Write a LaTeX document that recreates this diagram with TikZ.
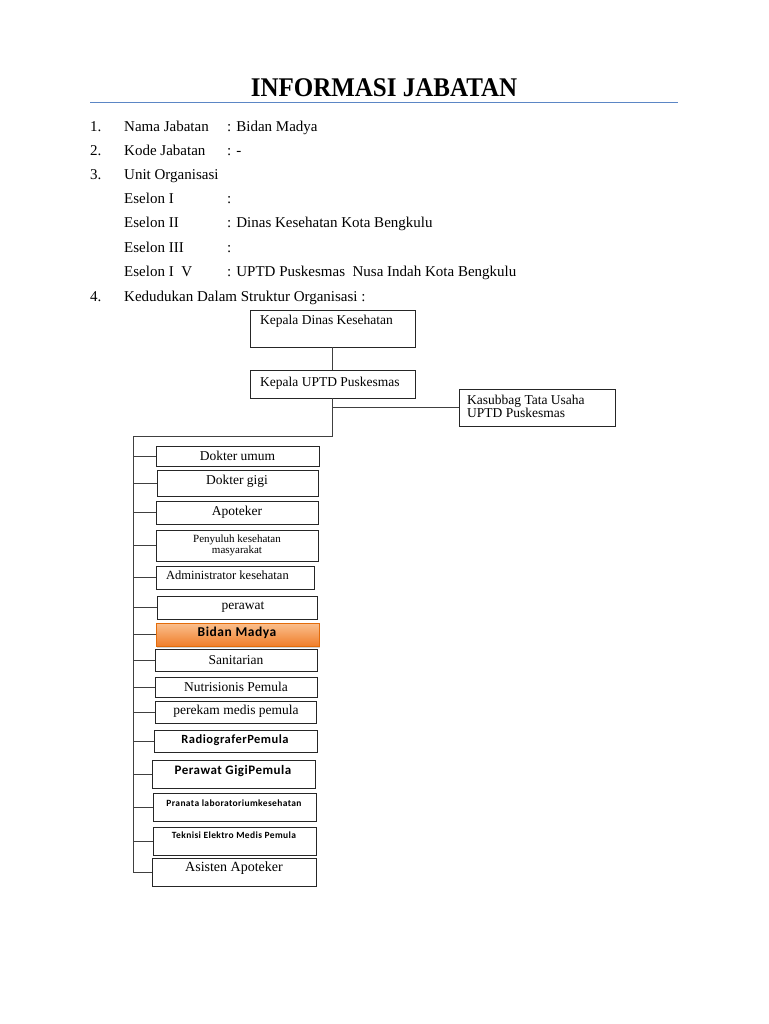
\documentclass[tikz,border=0pt]{standalone}
\usepackage{fontspec}
\setmainfont{Liberation Serif}
\newfontfamily\calfont{Carlito}[LetterSpace=4]
\usetikzlibrary{shadows}
\definecolor{rulecol}{HTML}{5B86C5}
\definecolor{orgtop}{HTML}{FAC08F}
\definecolor{orgbot}{HTML}{F07E2A}
\definecolor{orgline}{HTML}{E36C0A}
\tikzset{
  box/.style={draw=black!85, line width=0.8pt, inner sep=0pt},
  conn/.style={draw=black!75, line width=0.8pt},
  lbl/.style={inner sep=0pt, anchor=base west, font=\fontsize{15}{17}\selectfont},
  bt/.style={inner sep=0pt, font=\fontsize{13.5}{15}\selectfont},
  hl/.style={box, draw=orgline, top color=orgtop, bottom color=orgbot, drop shadow={opacity=0.35, shadow xshift=1pt, shadow yshift=-1.5pt}},
}
\newcommand\mybox[6][box]{%
  \node[#1, minimum width={(#4-#2)*1pt}, minimum height={(#5-#3)*1pt}] (#6) at ({(#2+#4)/2},{(#3+#5)/2}) {};}
\begin{document}
\begin{tikzpicture}[x=1pt,y=-1pt]
\useasboundingbox (0,0) rectangle (768,1024);
\fill[white] (0,0) rectangle (768,1024);
% title
\node[inner sep=0pt, font=\fontsize{25}{28}\bfseries\selectfont] (title) at (384,88) {\scalebox{1}[1.08]{INFORMASI JABATAN}};
\draw[rulecol, line width=1pt] (90,103) -- (678,103);
% list
\node[lbl] (n1) at (90,132) {1.};
\node[lbl] (l1) at (124,132) {Nama Jabatan};
\node[lbl] (v1) at (227,132) {: Bidan Madya};
\node[lbl] (n2) at (90,156) {2.};
\node[lbl] (l2) at (124,156) {Kode Jabatan};
\node[lbl] (v2) at (227,156) {: -};
\node[lbl] (n3) at (90,180) {3.};
\node[lbl] (l3) at (124,180) {Unit Organisasi};
\node[lbl] (l4) at (124,204) {Eselon I};
\node[lbl] (v4) at (227,204) {:};
\node[lbl] (l5) at (124,228) {Eselon II};
\node[lbl] (v5) at (227,228) {: Dinas Kesehatan Kota Bengkulu};
\node[lbl] (l6) at (124,252) {Eselon III};
\node[lbl] (v6) at (227,252) {:};
\node[lbl] (l7) at (124,276) {Eselon I\ \ V};
\node[lbl] (v7) at (227,276) {: UPTD Puskesmas\ \ Nusa Indah Kota Bengkulu};
\node[lbl] (n4) at (90,301) {4.};
\node[lbl] (l8) at (124,301) {Kedudukan Dalam Struktur Organisasi :};
% top boxes
\mybox{250}{310}{415}{347}{kdinas}
\node[bt, anchor=base west] (tkdinas) at (260,324) {Kepala Dinas Kesehatan};
\mybox{250}{370}{415}{398}{kuptd}
\node[bt, anchor=base west] (tkuptd) at (260,386) {Kepala UPTD Puskesmas};
\mybox{459}{389}{615}{426}{kasub}
\node[bt, anchor=north west, align=left, font=\fontsize{13.5}{13}\selectfont] (tkasub) at (467,395) {Kasubbag Tata Usaha\\UPTD Puskesmas};
% child boxes
\mybox{156}{446}{319}{466}{c1}
\node[bt] at (c1) {Dokter umum};
\mybox{157}{470}{318}{496}{c2}
\node[bt] at (237,481) {Dokter gigi};
\mybox{156}{501}{318}{524}{c3}
\node[bt] at (c3) {Apoteker};
\mybox{156}{530}{318}{561}{c4}
\node[bt, align=center, font=\fontsize{11}{11}\selectfont] at (237,545) {Penyuluh kesehatan\\masyarakat};
\mybox{156}{566}{314}{589}{c5}
\node[bt, anchor=base west, font=\fontsize{12.5}{14}\selectfont] at (166,579) {Administrator kesehatan};
\mybox{157}{596}{317}{619}{c6}
\node[bt] at (243,607) {perawat};
\mybox[hl]{156}{623}{319}{646}{c7}
\node[bt, font=\calfont\bfseries\fontsize{13.5}{14}\selectfont] at (237,633) {Bidan Madya};
\mybox{155}{649}{317}{671}{c8}
\node[bt] at (c8) {Sanitarian};
\mybox{155}{677}{317}{697}{c9}
\node[bt] at (c9) {Nutrisionis Pemula};
\mybox{155}{701}{316}{723}{c10}
\node[bt] at (236,711) {perekam medis pemula};
\mybox{154}{730}{317}{752}{c11}
\node[bt, font=\calfont\bfseries\fontsize{12.5}{14}\selectfont] at (235,740) {RadiograferPemula};
\mybox{152}{760}{315}{788}{c12}
\node[bt, font=\calfont\bfseries\fontsize{13}{15}\selectfont] at (233,771) {Perawat GigiPemula};
\mybox{153}{793}{316}{821}{c13}
\node[bt, font=\calfont\bfseries\fontsize{9.5}{11}\selectfont] at (234,803) {Pranata laboratoriumkesehatan};
\mybox{153}{827}{316}{855}{c14}
\node[bt, font=\calfont\bfseries\fontsize{9.5}{11}\selectfont] at (234,835) {Teknisi Elektro Medis Pemula};
\mybox{152}{858}{316}{886}{c15}
\node[bt, font=\fontsize{14}{16}\selectfont] at (234,868) {Asisten Apoteker};
% connectors
\coordinate (tTop) at (133,436);
\draw[conn] (kdinas.south) -- (kuptd.north);
\draw[conn] (kuptd.south) |- (tTop) -- (tTop |- c15.west) -- (c15.west);
\draw[conn] (kuptd.south |- kasub.west) -- (kasub.west);
\foreach \c in {c1,c2,c3,c4,c5,c6,c7,c8,c9,c10,c11,c12,c13,c14}{
  \draw[conn] (tTop |- \c.west) -- (\c.west);
}
\end{tikzpicture}
\end{document}
